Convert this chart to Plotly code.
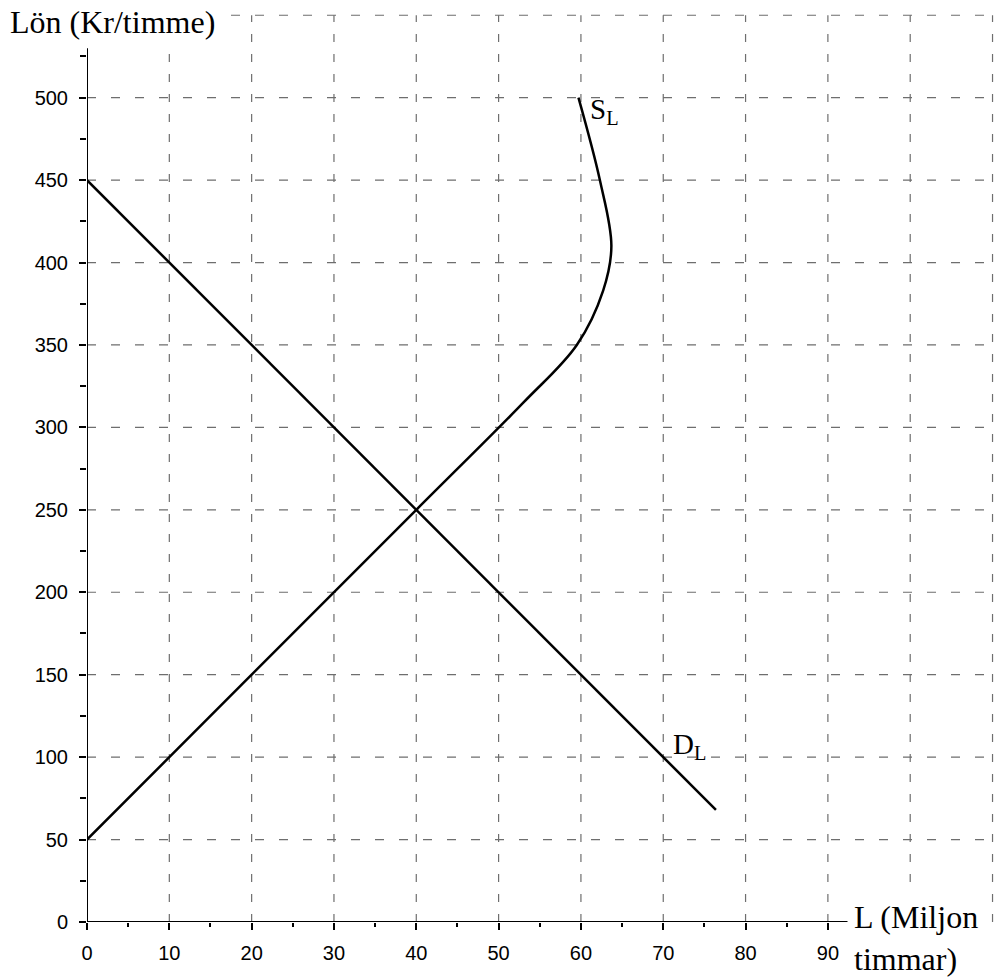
import plotly.graph_objects as go

# ---- data ----
d_L = [0, 76.4]
d_w = [450, 68]

s_L = [0, 40, 53, 59.5, 62.7, 63.7, 62.3, 59.7]
s_w = [50, 250, 315, 350, 383, 410, 450, 500]

x_major = [0, 10, 20, 30, 40, 50, 60, 70, 80, 90]
x_minor = [5, 15, 25, 35, 45, 55, 65, 75, 85]
y_major = [0, 50, 100, 150, 200, 250, 300, 350, 400, 450, 500]
y_minor = [25, 75, 125, 175, 225, 275, 325, 375, 425, 475, 525]
grid_x = [10, 20, 30, 40, 50, 60, 70, 80, 90, 100, 110]
grid_y = [50, 100, 150, 200, 250, 300, 350, 400, 450, 500, 550]

fig = go.Figure()

fig.add_trace(go.Scatter(x=d_L, y=d_w, mode="lines",
                         line=dict(color="black", width=2.5), showlegend=False,
                         hoverinfo="skip"))
fig.add_trace(go.Scatter(x=s_L, y=s_w, mode="lines",
                         line=dict(color="black", width=2.5, shape="spline", smoothing=1.0),
                         showlegend=False, hoverinfo="skip"))

shapes = []
for gx in grid_x:
    shapes.append(dict(type="line", xref="x", yref="y", x0=gx, x1=gx, y0=0, y1=550,
                       line=dict(color="#6e6e6e", width=1.2, dash="8px,12px"), layer="below"))
for gy in grid_y:
    shapes.append(dict(type="line", xref="x", yref="y", x0=0, x1=110.3, y0=gy, y1=gy,
                       line=dict(color="#6e6e6e", width=1.2, dash="9px,15px"), layer="below"))
# axis lines
shapes.append(dict(type="line", xref="x", yref="y", x0=0, x1=92.5, y0=0, y1=0,
                   line=dict(color="black", width=2)))
shapes.append(dict(type="line", xref="x", yref="y", x0=0, x1=0, y0=0, y1=530,
                   line=dict(color="black", width=2)))

serif = "Liberation Serif, Times New Roman, serif"
sans = "Liberation Sans, Arial, sans-serif"

annotations = [
    dict(x=-0.0925, y=0.9836, xref="paper", yref="paper", text="Lön (Kr/timme)", showarrow=False,
         xanchor="left", yanchor="middle", font=dict(family=serif, size=32, color="black"),
         bgcolor="white", borderpad=6),
    dict(x=0.8375, y=-0.0175, xref="paper", yref="paper", text="L (Miljon<br>timmar)", showarrow=False,
         xanchor="left", yanchor="middle", align="left",
         font=dict(family=serif, size=32, color="black"), bgcolor="white", borderpad=6),
    dict(x=60.9, y=492, xref="x", yref="y", text="S<sub>L</sub>", showarrow=False,
         xanchor="left", yanchor="middle", font=dict(family=serif, size=29, color="black")),
    dict(x=70.9, y=107, xref="x", yref="y", text="D<sub>L</sub>", showarrow=False,
         xanchor="left", yanchor="middle", font=dict(family=serif, size=29, color="black")),
]

fig.update_layout(
    width=996, height=978,
    margin=dict(l=87, r=1, t=7, b=56),
    paper_bgcolor="white", plot_bgcolor="white",
    shapes=shapes, annotations=annotations,
    xaxis=dict(range=[0, 110.3], showgrid=False, zeroline=False, showline=False,
               tickmode="array", tickvals=x_major, ticktext=[str(v) for v in x_major],
               ticks="outside", ticklen=7, tickwidth=1.5, tickcolor="black",
               ticklabelstandoff=6,
               tickfont=dict(family=sans, size=20, color="black"),
               minor=dict(tickmode="array", tickvals=x_minor, ticks="outside", ticklen=4,
                          tickwidth=1.5, tickcolor="black", showgrid=False),
               fixedrange=True, automargin=False),
    yaxis=dict(range=[0, 555], showgrid=False, zeroline=False, showline=False,
               tickmode="array", tickvals=y_major, ticktext=[str(v) for v in y_major],
               ticks="outside", ticklen=7, tickwidth=1.5, tickcolor="black",
               ticklabelstandoff=7,
               tickfont=dict(family=sans, size=20, color="black"),
               minor=dict(tickmode="array", tickvals=y_minor, ticks="outside", ticklen=6,
                          tickwidth=1.5, tickcolor="black", showgrid=False),
               fixedrange=True, automargin=False),
)

fig.write_html("out.html", post_script="document.body.style.margin='0px';",
               config={"displayModeBar": False})
